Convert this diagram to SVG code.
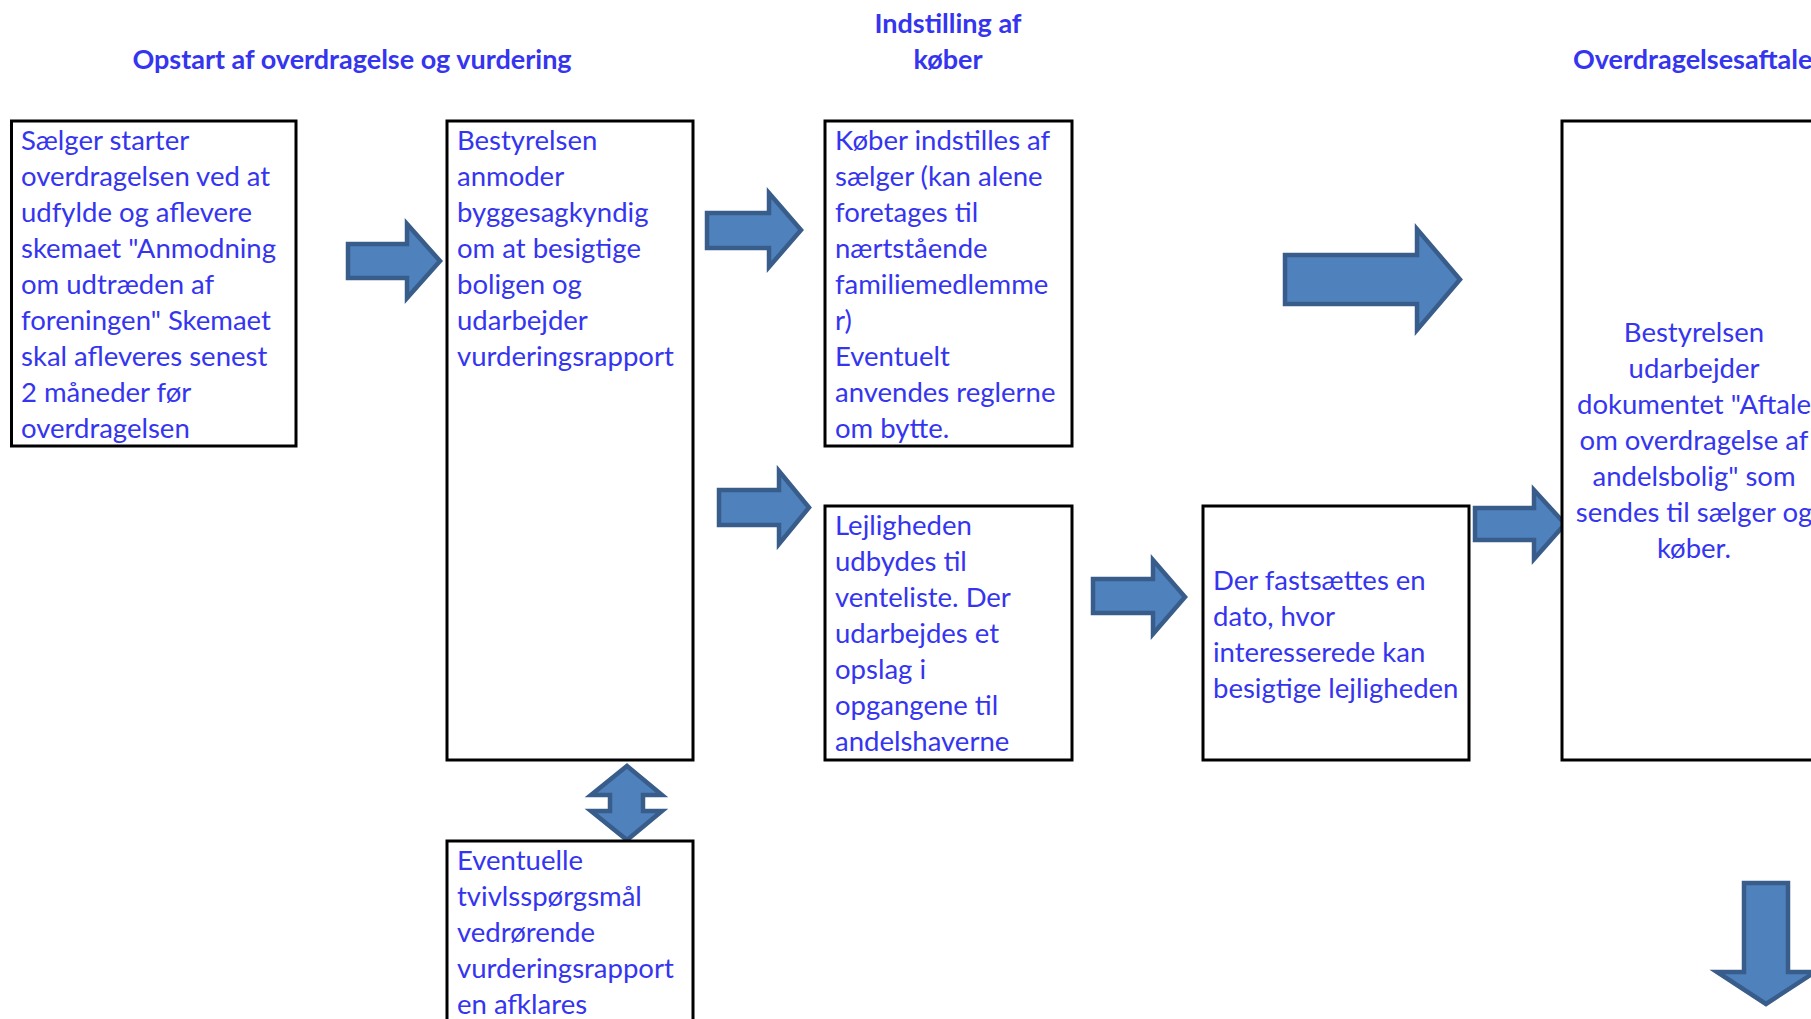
<svg xmlns="http://www.w3.org/2000/svg" width="1811" height="1019" viewBox="0 0 1811 1019">
<style>
.bg{fill:#ffffff}
.box{fill:#ffffff;stroke:#000000;stroke-width:3}
.arr{fill:#4f81bd;stroke:#385d8a;stroke-width:4.5;stroke-linejoin:miter}
.t{font-family:Lato,"Liberation Sans",sans-serif;font-size:27.5px;fill:#3535f0}
.h{font-family:Lato,"Liberation Sans",sans-serif;font-size:27px;font-weight:bold;fill:#3535f0}
.c{text-anchor:middle}
</style>
<rect class="bg" x="0" y="0" width="1811" height="1019"/>
<g id="titles">
<text class="h c" x="352" y="69">Opstart af overdragelse og vurdering</text>
<text class="h c" x="948" y="33">Indstilling af</text>
<text class="h c" x="948" y="69">køber</text>
<text class="h" x="1573" y="69">Overdragelsesaftale</text>
</g>
<g id="connectors">
<path class="arr" d="M348,244 H407 V224 L440,261 L407,298 V278 H348 Z"/>
<path class="arr" d="M707,213 H769 V193 L801,230 L769,267 V248 H707 Z"/>
<path class="arr" d="M1285,255 H1417 V229 L1460,279.5 L1417,330 V304 H1285 Z"/>
<path class="arr" d="M719,490 H779 V471 L809,507.5 L779,544 V525 H719 Z"/>
<path class="arr" d="M1093,579 H1153 V560 L1185,597 L1153,634 V613 H1093 Z"/>
<path class="arr" d="M1475,508 H1534 V490 L1565,524 L1534,559 V540 H1475 Z"/>
<path class="arr" d="M1744,883 H1788 V972 H1815 L1766,1004 L1717,972 H1744 Z"/>
<path class="arr" d="M627,766 L662,795 H643 V811 H662 L627,840 L591,811 H610 V795 H591 Z"/>
</g>
<g id="node-saelger">
<rect class="box" x="11.5" y="121" width="284.5" height="325"/>
<text class="t"><tspan x="21" y="150">Sælger starter</tspan><tspan x="21" y="186">overdragelsen ved at</tspan><tspan x="21" y="222">udfylde og aflevere</tspan><tspan x="21" y="258">skemaet "Anmodning</tspan><tspan x="21" y="294">om udtræden af</tspan><tspan x="21" y="330">foreningen" Skemaet</tspan><tspan x="21" y="366">skal afleveres senest</tspan><tspan x="21" y="402">2 måneder før</tspan><tspan x="21" y="438">overdragelsen</tspan></text>
</g>
<g id="node-bestyrelsen-anmoder">
<rect class="box" x="447" y="121" width="246" height="639"/>
<text class="t"><tspan x="457" y="150">Bestyrelsen</tspan><tspan x="457" y="186">anmoder</tspan><tspan x="457" y="222">byggesagkyndig</tspan><tspan x="457" y="258">om at besigtige</tspan><tspan x="457" y="294">boligen og</tspan><tspan x="457" y="330">udarbejder</tspan><tspan x="457" y="366">vurderingsrapport</tspan></text>
</g>
<g id="node-koeber">
<rect class="box" x="825" y="121" width="247" height="325"/>
<text class="t"><tspan x="835" y="150">Køber indstilles af</tspan><tspan x="835" y="186">sælger (kan alene</tspan><tspan x="835" y="222">foretages til</tspan><tspan x="835" y="258">nærtstående</tspan><tspan x="835" y="294">familiemedlemme</tspan><tspan x="835" y="330">r)</tspan><tspan x="835" y="366">Eventuelt</tspan><tspan x="835" y="402">anvendes reglerne</tspan><tspan x="835" y="438">om bytte.</tspan></text>
</g>
<g id="node-lejligheden">
<rect class="box" x="825" y="506" width="247" height="254"/>
<text class="t"><tspan x="835" y="535">Lejligheden</tspan><tspan x="835" y="571">udbydes til</tspan><tspan x="835" y="607">venteliste. Der</tspan><tspan x="835" y="643">udarbejdes et</tspan><tspan x="835" y="679">opslag i</tspan><tspan x="835" y="715">opgangene til</tspan><tspan x="835" y="751">andelshaverne</tspan></text>
</g>
<g id="node-dato">
<rect class="box" x="1203" y="506" width="266" height="254"/>
<text class="t"><tspan x="1213" y="590">Der fastsættes en</tspan><tspan x="1213" y="626">dato, hvor</tspan><tspan x="1213" y="662">interesserede kan</tspan><tspan x="1213" y="698">besigtige lejligheden</tspan></text>
</g>
<g id="node-aftale">
<rect class="box" x="1562" y="121" width="280" height="639"/>
<text class="t c"><tspan x="1694" y="342">Bestyrelsen</tspan><tspan x="1694" y="378">udarbejder</tspan><tspan x="1694" y="414">dokumentet "Aftale</tspan><tspan x="1694" y="450">om overdragelse af</tspan><tspan x="1694" y="486">andelsbolig" som</tspan><tspan x="1694" y="522">sendes til sælger og</tspan><tspan x="1694" y="558">køber.</tspan></text>
</g>
<g id="node-tvivl">
<rect class="box" x="447" y="841" width="246" height="200"/>
<text class="t"><tspan x="457" y="870">Eventuelle</tspan><tspan x="457" y="906">tvivlsspørgsmål</tspan><tspan x="457" y="942">vedrørende</tspan><tspan x="457" y="978">vurderingsrapport</tspan><tspan x="457" y="1014">en afklares</tspan></text>
</g>
</svg>
